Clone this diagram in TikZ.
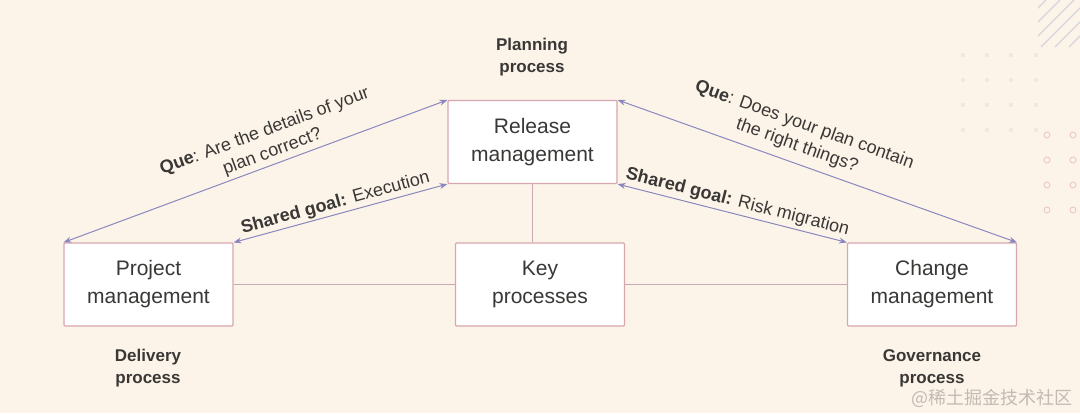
\documentclass[tikz,border=0pt]{standalone}
\usepackage{fontspec}
\setmainfont{Liberation Sans}
\newfontfamily\cjk{Noto Sans CJK SC}
\usetikzlibrary{arrows.meta}
\definecolor{bg}{HTML}{FDF4E9}
\definecolor{boxline}{HTML}{D8A6AE}
\definecolor{conn}{HTML}{C9A9B1}
\definecolor{arr}{HTML}{8987BE}
\definecolor{txt}{HTML}{3A3836}
\definecolor{hatch}{HTML}{D5D3DC}
\definecolor{ring}{HTML}{EAC9C2}
\definecolor{faint}{HTML}{F2E7DC}
\definecolor{wm}{HTML}{C2BBB4}
\begin{document}
\begin{tikzpicture}[x=1pt,y=-1pt,
  procbox/.style={draw=boxline, fill=white, line width=1.1pt, minimum width=169pt, minimum height=83pt,
    inner sep=0pt, align=center, font=\fontsize{21}{28}\selectfont, text=txt, rounded corners=1pt},
  tag/.style={font=\fontsize{17}{22}\selectfont\bfseries, text=txt, align=center},
  qarrow/.style={draw=arr, line width=1pt, {Stealth[length=8pt,width=6pt]}-{Stealth[length=8pt,width=6pt]}},
  plink/.style={draw=conn, line width=1.2pt},
  albl/.style={font=\fontsize{18}{22}\selectfont, text=txt, align=center, sloped, anchor=south}
]
\fill[bg] (0,0) rectangle (1080,413);
\useasboundingbox (0,0) rectangle (1080,413);

% decorations
\begin{scope}
\clip (1038,0) rectangle (1080,47);
\foreach \a in {985,999,...,1090} \draw[hatch, line width=1.1pt] (\a,47) -- (\a+47,0);
\end{scope}
\foreach \x in {963,987,1011,1036} \foreach \y in {55,80,105,130} \fill[faint] (\x,\y) circle (2.2);
\foreach \x in {1047,1073} \foreach \y in {135,160,185,210} \draw[ring, line width=0.9pt] (\x,\y) circle (3);

% boxes
\node[procbox] (rel) at (532.5,142) {Release\\management};
\node[procbox] (key) at (540,284.5) {Key\\processes};
\node[procbox] (proj) at (148.5,284.5) {Project\\management};
\node[procbox] (chg) at (932,284.5) {Change\\management};

% plain links
\draw[plink] (rel.south) -- (rel.south |- key.north);
\draw[plink] (proj.east) -- (key.west);
\draw[plink] (key.east) -- (chg.west);

% arrows
\draw[qarrow] (proj.north west) -- node[albl, pos=0.555, inner sep=3pt] {\textbf{Que}: Are the details of your\\plan correct?} (rel.north west);
\draw[qarrow] (proj.north east) -- node[albl, pos=0.49, inner sep=2pt] {\textbf{Shared goal:} Execution} (rel.south west);
\draw[qarrow] (rel.north east) -- node[albl, pos=0.435, inner sep=8pt] {\textbf{Que}: Does your plan contain\\the right things?} (chg.north east);
\draw[qarrow] (rel.south east) -- node[albl, pos=0.51, inner sep=3pt] {\textbf{Shared goal:} Risk migration} (chg.north west);

% process tags
\node[tag] (plan) at (532,57) {Planning\\process};
\node[tag] (deliv) at (148,368) {Delivery\\process};
\node[tag] (gov) at (932,368) {Governance\\process};

% watermark
\node[font=\cjk\fontsize{18}{18}\selectfont, text=wm, anchor=east] (wmk) at (1076,398) {@稀土掘金技术社区};
\end{tikzpicture}
\end{document}
